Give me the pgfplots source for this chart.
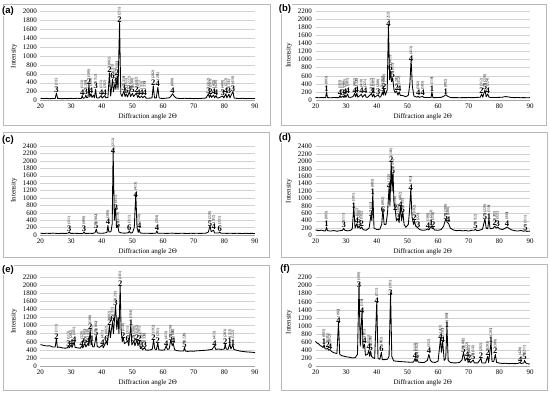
\documentclass[border=0pt]{standalone}
\usepackage{pgfplots}
\pgfplotsset{compat=1.18}
\usepackage{fontspec}
\setmainfont{Liberation Serif}
\newfontfamily\sansf{Liberation Sans}
\newcommand\pk[4]{\node[anchor=south,align=center,inner sep=0.2pt,font=\fontsize{8.5}{4}\selectfont] at (axis cs:#1,#2) {\rotatebox{90}{\fontsize{3.8}{4}\selectfont #4}\\\textbf{#3}};}
\pgfplotsset{xrd/.style={scale only axis, width=214.5pt, height=89pt, xmin=20, xmax=90, ymin=0,
  xtick={20,30,...,90}, ytick distance=200, axis lines=left, axis line style={-},
  y axis line style={draw=none}, x axis line style={gray!70},
  ymajorgrids, grid style={gray!35, line width=0.3pt}, major tick length=0pt,
  tick label style={font=\fontsize{7}{8}\selectfont},
  /pgf/number format/assume math mode=true, /pgf/number format/1000 sep={},
  xlabel={Diffraction angle 2Θ}, ylabel={Intensity},
  label style={font=\fontsize{7}{8}\selectfont},
  xlabel style={yshift=2pt}, ylabel style={yshift=-1pt},
  clip=false, anchor=south west},
  xrdline/.style={black, line width=0.85pt, line join=round, mark=none}}
\begin{document}
\begin{tikzpicture}
\path[use as bounding box] (0,0) rectangle (550pt,394pt);
\draw[gray!55, line width=0.4pt] (3pt,269pt) rectangle (270pt,390pt);
\draw[gray!55, line width=0.4pt] (281pt,269pt) rectangle (546pt,390pt);
\draw[gray!55, line width=0.4pt] (3pt,137pt) rectangle (269pt,262pt);
\draw[gray!55, line width=0.4pt] (281pt,137pt) rectangle (547pt,262pt);
\draw[gray!55, line width=0.4pt] (3pt,4pt) rectangle (269pt,129pt);
\draw[gray!55, line width=0.4pt] (281pt,4pt) rectangle (547pt,130pt);

% (a)
\begin{axis}[xrd, at={(40.5pt,293.5pt)}, ymax=2000]
\addplot[xrdline] coordinates {(20,50)(21,42)(22,48)(23,40)(24,46)(24.8,45)(25.2,170)(25.6,45)(26,48)(27,40)(28,46)(29,42)(30,48)(31,44)(32,50)(33,46)(33.3,45)(33.6,110)(33.9,50)(34.5,60)(34.8,120)(35.1,60)(35.5,70)(35.8,360)(36.1,80)(36.5,150)(36.8,70)(37.3,120)(37.6,60)(38,250)(38.3,60)(39,55)(39.8,110)(40.1,55)(41,110)(41.3,60)(42,70)(42.5,620)(42.9,100)(43.5,480)(43.8,200)(44.3,380)(44.6,250)(45,550)(45.3,250)(45.8,1750)(46.2,150)(46.6,90)(47.2,210)(47.6,90)(48,150)(48.4,80)(49,200)(49.4,90)(50,160)(50.4,90)(51.3,170)(51.7,70)(52,110)(52.4,60)(53,100)(53.3,60)(54,100)(54.4,55)(55,50)(56,55)(56.4,60)(56.8,330)(57.2,60)(57.8,60)(58.3,300)(58.7,60)(59,50)(60,46)(61,52)(62,60)(62.5,90)(63.1,150)(63.7,90)(64.3,55)(65,48)(66,44)(67,50)(68,45)(69,48)(70,42)(71,47)(72,44)(73,50)(74,55)(74.8,150)(75.1,70)(75.5,130)(75.8,70)(76.5,120)(76.8,60)(77.3,110)(77.6,60)(78,55)(79.5,100)(79.8,55)(80.5,150)(80.8,60)(81.5,140)(81.8,60)(82.8,200)(83.2,55)(84,48)(85,44)(86,50)(87,42)(88,47)(89,44)(90,46)};
\pk{25.2}{170}{3}{(111)}\pk{33.6}{110}{4}{(113)}\pk{34.8}{120}{3}{(200)}\pk{35.8}{360}{2}{(100)}
\pk{36.5}{150}{4}{(101)}\pk{38}{250}{3}{(112)}\pk{39.8}{110}{4}{(111)}\pk{41}{110}{4}{(202)}
\pk{42.5}{620}{2}{(002)}\pk{43.5}{480}{6}{(111)}\pk{44.3}{380}{3}{(211)}\pk{45}{550}{2}{(101)}
\pk{45.8}{1750}{2}{(211)}\pk{47.2}{210}{3}{(310)}\pk{48}{150}{6}{(311)}\pk{49}{200}{3}{(222)}
\pk{50}{160}{5}{(200)}\pk{51.3}{170}{2}{(102)}\pk{52}{110}{4}{(321)}\pk{53}{100}{4}{(113)}
\pk{54}{100}{4}{(330)}\pk{56.8}{330}{2}{(202)}\pk{58.3}{300}{4}{(201)}\pk{63.1}{150}{4}{(600)}
\pk{74.8}{150}{3}{(312)}\pk{75.5}{130}{2}{(203)}\pk{76.5}{120}{4}{(413)}\pk{77.3}{110}{4}{(420)}
\pk{79.5}{100}{3}{(400)}\pk{80.5}{150}{4}{(213)}\pk{81.5}{140}{3}{(331)}\pk{82.8}{200}{3}{(410)}
\end{axis}

% (b)
\begin{axis}[xrd, at={(315.5pt,294pt)}, ymax=2200]
\addplot[xrdline] coordinates {(20,65)(21,55)(22,62)(23,58)(23.3,60)(23.6,200)(23.9,60)(25,55)(26,62)(27,58)(27.7,60)(28,110)(28.3,60)(29,100)(29.3,60)(29.6,130)(29.9,65)(30.5,150)(30.8,70)(31.5,65)(32.2,80)(32.8,160)(33.1,80)(33.5,170)(33.8,70)(35,140)(35.3,70)(36.2,140)(36.5,70)(37,65)(38.3,160)(38.6,80)(39,150)(39.3,70)(40.5,130)(40.8,70)(41.3,80)(41.9,200)(42.1,120)(42.4,260)(42.8,120)(43.4,250)(43.8,1850)(44.2,500)(44.5,720)(44.8,450)(45.2,550)(45.6,250)(46,180)(46.5,220)(46.9,120)(47.3,200)(47.7,110)(48.5,110)(49.5,80)(50.3,120)(50.8,400)(51.2,1000)(51.6,350)(52.1,100)(53,70)(53.5,90)(53.8,65)(55,90)(55.3,65)(56,60)(57,62)(57.7,60)(58,200)(58.3,60)(59,58)(60,62)(61,65)(61.8,90)(62.5,130)(63.2,90)(64,62)(65,58)(66,60)(67,55)(68,60)(69,58)(70,62)(71,57)(72,60)(73,65)(73.8,70)(74.2,150)(74.6,70)(75.3,250)(75.7,80)(76.2,150)(76.6,70)(77,65)(78,60)(79,62)(80,65)(81,70)(82,85)(83,75)(84,62)(85,58)(86,62)(87,56)(88,60)(89,55)(90,58)};
\pk{23.6}{200}{1}{(003)}\pk{28}{110}{4}{(103)}\pk{29}{100}{3}{(111)}\pk{29.6}{130}{4}{(202)}
\pk{30.5}{150}{4}{(301)}\pk{32.8}{160}{4}{(402)}\pk{33.5}{170}{4}{(320)}\pk{35}{140}{4}{(410)}
\pk{36.2}{140}{4}{(321)}\pk{38.3}{160}{3}{(112)}\pk{39}{150}{1}{(101)}\pk{40.5}{130}{3}{(200)}
\pk{41.9}{200}{3}{(202)}\pk{42.4}{260}{2}{(002)}\pk{43.8}{1800}{4}{(212)}\pk{44.5}{720}{6}{(411)}
\pk{45.2}{550}{5}{(111)}\pk{46.5}{220}{2}{(201)}\pk{47.3}{200}{4}{(312)}\pk{51.2}{950}{4}{(413)}
\pk{53.5}{90}{4}{(502)}\pk{55}{90}{4}{(503)}\pk{58}{200}{1}{(110)}\pk{62.5}{130}{1}{(002)}
\pk{74.2}{150}{2}{(312)}\pk{75.3}{250}{5}{(220)}\pk{76.2}{150}{4}{(224)}
\end{axis}

% (c)
\begin{axis}[xrd, at={(40.5pt,159pt)}, ymax=2400]
\addplot[xrdline] coordinates {(20,50)(21,40)(22,48)(23,42)(24,50)(25,45)(26,40)(27,46)(28,42)(29,48)(29.4,85)(29.7,48)(30,42)(31,46)(32,44)(33,40)(34,48)(34.2,85)(34.5,45)(35,42)(36,46)(37,44)(37.8,60)(38.2,160)(38.5,60)(39,50)(40,46)(41,55)(41.7,70)(42,260)(42.3,80)(43,90)(43.4,300)(43.7,2300)(44.1,400)(44.5,720)(44.8,200)(45.2,260)(45.6,80)(46.5,55)(47.5,50)(48.7,60)(49,110)(49.3,55)(50,60)(50.6,200)(51.1,1120)(51.5,200)(51.9,70)(52.2,160)(52.5,60)(53,50)(54,45)(55,48)(56,42)(57,46)(57.7,50)(58,110)(58.3,50)(59,45)(60,48)(61,42)(62,46)(63,50)(64,44)(65,42)(66,48)(67,44)(68,40)(69,46)(70,44)(71,48)(72,42)(73,46)(74,50)(74.8,80)(75.3,260)(75.7,90)(76.5,130)(76.8,55)(78.2,55)(78.5,85)(78.8,50)(80,46)(81,44)(82,48)(83,42)(84,46)(85,44)(86,40)(87,46)(88,42)(89,44)(90,40)};
\pk{29.4}{85}{3}{(311)}\pk{34.2}{85}{3}{(400)}\pk{38.2}{160}{5}{(002)}\pk{42}{260}{4}{(309)}
\pk{43.7}{2200}{4}{(212)}\pk{44.6}{650}{3}{(411)}\pk{45.3}{200}{5}{(110)}\pk{49}{110}{6}{(311)}
\pk{51.1}{1000}{4}{(413)}\pk{52.2}{160}{4}{(513)}\pk{58}{110}{4}{(204)}\pk{75.3}{220}{5}{(220)}
\pk{76.5}{130}{4}{(312)}\pk{78.5}{85}{6}{(331)}
\end{axis}

% (d)
\begin{axis}[xrd, at={(315.5pt,158.5pt)}, ymax=2400]
\addplot[xrdline] coordinates {(20,150)(21,130)(22,145)(23,120)(23.3,130)(23.6,230)(23.9,130)(25,120)(26,135)(27,115)(28,130)(28.8,140)(29.2,190)(29.6,140)(30.5,125)(31.5,140)(32,180)(32.5,780)(32.9,200)(33.5,320)(33.8,200)(34.3,260)(34.6,180)(35.1,230)(35.5,160)(36.5,140)(37.5,200)(38.1,560)(38.4,400)(38.7,1150)(39.1,200)(40,160)(41,170)(41.6,300)(42,700)(42.4,300)(43,300)(43.5,600)(44,1300)(44.3,800)(44.7,2000)(45,1200)(45.3,1700)(45.6,900)(46,700)(46.4,400)(47,450)(47.3,350)(47.7,800)(48.1,400)(48.5,650)(48.9,300)(49.5,220)(50.3,300)(50.7,700)(51.1,1250)(51.5,500)(52,300)(52.3,400)(52.7,250)(53.5,200)(54,160)(55,140)(56,150)(56.7,180)(57,150)(57.8,260)(58.1,180)(58.4,210)(58.8,150)(60,140)(61,160)(61.8,250)(62.5,450)(63,350)(63.4,330)(64,200)(65,150)(66,130)(67,140)(68,125)(69,135)(70,120)(71,140)(71.8,140)(72.2,170)(72.6,130)(73.5,140)(74.5,170)(75.3,450)(75.7,200)(76.2,180)(76.6,450)(77,180)(78,200)(78.5,250)(79,200)(79.5,230)(80,180)(81,160)(82,200)(82.5,230)(83,200)(84,150)(85,130)(86,120)(87,135)(88,115)(88.5,130)(89,110)(90,120)};
\pk{23.6}{230}{1}{(003)}\pk{29.2}{190}{3}{(111)}\pk{32.5}{720}{1}{(101)}\pk{33.5}{320}{4}{(111)}
\pk{34.3}{260}{3}{(200)}\pk{35.1}{230}{2}{(102)}\pk{38.1}{500}{3}{(112)}\pk{38.7}{1100}{1}{(003)}
\pk{42}{620}{6}{(002)}\pk{44}{1250}{4}{(212)}\pk{44.7}{1950}{2}{(101)}\pk{45.3}{1650}{5}{(111)}
\pk{46}{650}{2}{(110)}\pk{47}{420}{3}{(301)}\pk{47.7}{750}{4}{(402)}\pk{48.5}{600}{6}{(311)}
\pk{51.1}{1200}{4}{(413)}\pk{52.3}{400}{2}{(102)}\pk{53.5}{200}{3}{(221)}\pk{56.7}{180}{4}{(100)}
\pk{57.8}{260}{1}{(213)}\pk{58.4}{210}{2}{(110)}\pk{62.5}{420}{5}{(200)}\pk{63.3}{350}{4}{(600)}
\pk{72.2}{170}{5}{(112)}\pk{75.3}{420}{5}{(220)}\pk{76.6}{420}{1}{(116)}\pk{78.5}{250}{2}{(202)}
\pk{79.5}{230}{3}{(321)}\pk{82.5}{230}{4}{(444)}\pk{88.5}{130}{5}{(311)}
\end{axis}

% (e)
\begin{axis}[xrd, at={(40.5pt,28pt)}, ymax=2200]
\addplot[xrdline] coordinates {(20,530)(21,510)(22,495)(23,500)(24,470)(24.8,470)(25.2,680)(25.5,460)(26,470)(27,450)(28,440)(28.8,450)(29.1,500)(29.4,450)(30,520)(30.3,460)(31,600)(31.3,460)(32,450)(33,440)(33.5,500)(33.8,450)(34.5,560)(34.8,470)(35.5,560)(35.8,500)(36.2,900)(36.5,520)(36.7,620)(37,480)(37.5,470)(38.2,760)(38.5,480)(39.3,460)(40.2,520)(40.5,450)(41.5,620)(41.8,520)(42.5,1000)(42.8,700)(43.5,1100)(43.8,800)(44.5,1500)(44.9,900)(45.3,1200)(45.6,800)(46,2000)(46.3,900)(46.7,600)(47,700)(47.4,550)(48.5,620)(48.8,500)(49.5,1020)(49.8,520)(50.5,620)(50.8,500)(51.5,650)(51.8,500)(52.3,620)(52.6,430)(53,460)(53.3,400)(54,460)(54.3,400)(55,390)(56,400)(56.5,420)(56.9,650)(57.3,420)(57.8,400)(58.3,570)(58.6,400)(59.5,390)(60.5,400)(61,500)(61.4,410)(62,420)(62.5,650)(63,500)(63.3,560)(63.8,400)(64.5,380)(65.5,370)(66.7,370)(67,460)(67.3,370)(68,360)(69,370)(70,365)(71,375)(72,380)(73,385)(74,390)(75,400)(76,410)(76.8,500)(77.2,410)(78,420)(79,410)(80,420)(80.3,550)(80.6,420)(81.2,410)(81.8,560)(82.1,420)(82.8,520)(83.1,410)(84,390)(85,370)(86,360)(87,350)(88,345)(89,340)(90,330)};
\pk{25.2}{650}{2}{(111)}\pk{29.1}{480}{3}{(113)}\pk{30}{500}{4}{(202)}\pk{31}{580}{4}{(301)}
\pk{33.5}{480}{4}{(320)}\pk{34.5}{540}{6}{(002)}\pk{35.5}{540}{4}{(410)}\pk{36.2}{880}{2}{(100)}
\pk{36.8}{600}{1}{(101)}\pk{38.2}{740}{5}{(002)}\pk{40.2}{500}{4}{(411)}\pk{41.5}{600}{6}{(002)}
\pk{42.5}{980}{2}{(002)}\pk{43.5}{1080}{6}{(111)}\pk{44.5}{1480}{3}{(211)}\pk{46}{1960}{2}{(101)}
\pk{47}{680}{2}{(110)}\pk{48.5}{600}{6}{(311)}\pk{49.5}{1000}{1}{(104)}\pk{50.5}{600}{5}{(200)}
\pk{51.5}{630}{2}{(102)}\pk{52.3}{600}{2}{(201)}\pk{53}{440}{3}{(321)}\pk{54}{440}{3}{(330)}
\pk{56.9}{630}{2}{(102)}\pk{58.3}{550}{2}{(201)}\pk{61}{480}{4}{(413)}\pk{62.5}{630}{5}{(220)}
\pk{63.3}{540}{4}{(600)}\pk{67}{440}{5}{(220)}\pk{76.8}{480}{4}{(413)}\pk{80.3}{530}{2}{(203)}
\pk{81.8}{540}{1}{(113)}\pk{82.8}{500}{1}{(122)}
\end{axis}

% (f)
\begin{axis}[xrd, at={(315.5pt,27.5pt)}, ymax=2200]
\addplot[xrdline] coordinates {(20,620)(20.5,580)(21,560)(21.5,520)(22,500)(22.5,470)(22.8,540)(23.1,440)(23.5,430)(24,450)(24.3,400)(24.7,420)(25,390)(25.5,360)(26,340)(26.5,330)(27,320)(27.5,1100)(27.9,300)(28.5,270)(29,260)(30,240)(31,230)(32,210)(33,220)(33.7,300)(34.2,2050)(34.6,500)(35.2,1400)(35.5,450)(36,550)(36.3,280)(37,300)(37.4,400)(37.7,250)(38,380)(38.3,250)(38.7,220)(39.3,200)(40,1600)(40.4,200)(41,180)(41.5,350)(41.8,170)(42.5,170)(43.5,180)(44,250)(44.5,1820)(44.9,250)(45.5,140)(46.5,130)(48,120)(49,115)(50,110)(51,105)(52,110)(52.5,200)(52.8,120)(53.1,190)(53.5,110)(54.5,100)(55.5,100)(56.5,150)(57,300)(57.5,150)(58,110)(59,100)(60,130)(60.8,700)(61.1,350)(61.5,620)(62,150)(62.5,200)(62.9,1000)(63.3,150)(64,100)(65,90)(66,90)(67,100)(67.8,160)(68.3,350)(68.8,140)(69.5,220)(69.8,100)(70.2,150)(70.5,90)(71.5,160)(71.8,90)(73,90)(74,200)(74.3,85)(75.5,90)(76.2,250)(76.5,100)(77.3,610)(77.6,120)(78.2,130)(78.7,300)(79.1,100)(80,85)(81,75)(82,80)(83,70)(84,75)(85,70)(86,75)(86.8,100)(87.1,70)(88,90)(88.2,150)(88.6,90)(89,70)(90,60)};
\pk{22.8}{540}{1}{(003)}\pk{24}{450}{2}{(101)}\pk{24.7}{420}{4}{(012)}\pk{27.5}{1050}{4}{(002)}
\pk{34.2}{1950}{3}{(100)}\pk{35.2}{1300}{4}{(110)}\pk{36}{550}{4}{(011)}\pk{37.4}{400}{4}{(111)}
\pk{38}{380}{5}{(200)}\pk{40}{1550}{4}{(211)}\pk{41.5}{350}{6}{(002)}\pk{44.5}{1750}{3}{(101)}
\pk{52.5}{200}{4}{(113)}\pk{53.1}{190}{5}{(102)}\pk{57}{300}{4}{(312)}\pk{60.8}{650}{4}{(411)}
\pk{61.5}{580}{4}{(103)}\pk{62.9}{950}{1}{(300)}\pk{68.3}{330}{5}{(002)}\pk{69.5}{220}{4}{(322)}
\pk{70.2}{150}{2}{(201)}\pk{71.5}{160}{5}{(112)}\pk{74}{200}{2}{(202)}\pk{76.2}{250}{2}{(203)}
\pk{77.3}{580}{1}{(201)}\pk{78.7}{300}{2}{(300)}\pk{86.8}{100}{4}{(420)}\pk{88.2}{150}{5}{(211)}
\end{axis}

\node[font=\sansf\bfseries\fontsize{9.5}{10}\selectfont, fill=white, inner sep=0.5pt] at (8pt,383pt) {(a)};
\node[font=\sansf\bfseries\fontsize{9.5}{10}\selectfont, fill=white, inner sep=0.5pt] at (285pt,385pt) {(b)};
\node[font=\sansf\bfseries\fontsize{9.5}{10}\selectfont, fill=white, inner sep=0.5pt] at (8pt,254pt) {(c)};
\node[font=\sansf\bfseries\fontsize{9.5}{10}\selectfont, fill=white, inner sep=0.5pt] at (285pt,256pt) {(d)};
\node[font=\sansf\bfseries\fontsize{9.5}{10}\selectfont, fill=white, inner sep=0.5pt] at (8pt,124pt) {(e)};
\node[font=\sansf\bfseries\fontsize{9.5}{10}\selectfont, fill=white, inner sep=0.5pt] at (285pt,125pt) {(f)};
\end{tikzpicture}
\end{document}
